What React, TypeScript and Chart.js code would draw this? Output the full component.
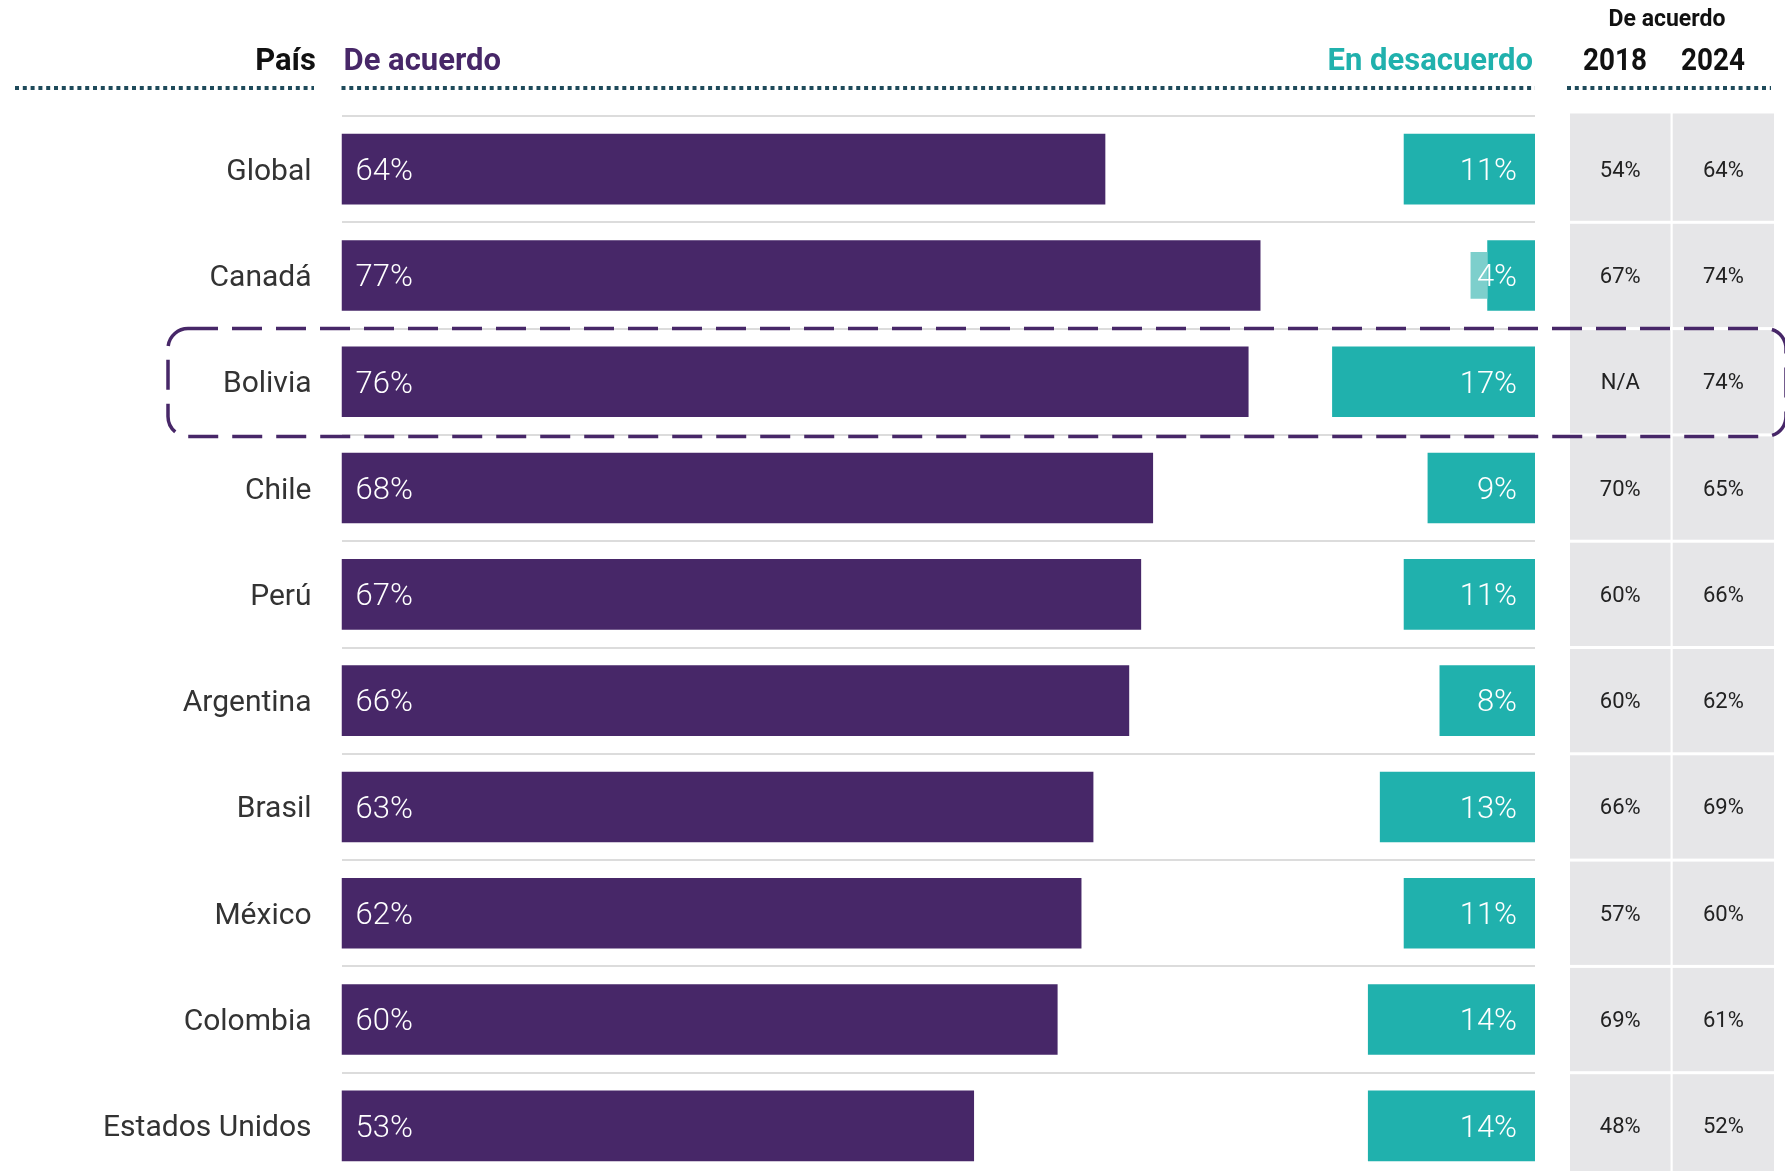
import React, { useEffect, useRef } from 'react';
import { Chart, registerables } from 'chart.js';

Chart.register(...registerables);

// ---------- Data ----------
const paises = ['Global', 'Canadá', 'Bolivia', 'Chile', 'Perú', 'Argentina', 'Brasil', 'México', 'Colombia', 'Estados Unidos'];
const deAcuerdo = [64, 77, 76, 68, 67, 66, 63, 62, 60, 53];
const enDesacuerdo = [11, 4, 17, 9, 11, 8, 13, 11, 14, 14];
const fondoEtiqueta = [0, 1.4, 0, 0, 0, 0, 0, 0, 0, 0];
const acuerdo2018: (number | null)[] = [54, 67, null, 70, 60, 60, 66, 57, 69, 48];
const acuerdo2024: (number | null)[] = [64, 74, 74, 65, 66, 62, 69, 60, 61, 52];
const paisDestacado = 'Bolivia';

const colorAcuerdo = '#472768';
const colorDesacuerdo = '#20b1ad';
const colorFondo = '#7dcfcc';

const W = 1785;
const H = 1200;

const fmt = (v: number | null) => (v === null ? 'N/A' : `${v}%`);

const overlayPlugin = {
  id: 'overlay',
  afterDatasetsDraw(chart: any) {
    const ctx = chart.ctx;
    ctx.save();
    const mA = chart.getDatasetMeta(0);
    const mD = chart.getDatasetMeta(2);
    ctx.font = '300 31px Roboto';
    ctx.fillStyle = '#ffffff';
    ctx.textBaseline = 'middle';
    mA.data.forEach((el: any, i: number) => {
      ctx.textAlign = 'left';
      ctx.fillText(`${deAcuerdo[i]}%`, el.base + 14, el.y + 3);
    });
    mD.data.forEach((el: any, i: number) => {
      ctx.textAlign = 'right';
      ctx.fillText(`${enDesacuerdo[i]}%`, el.x - 18, el.y + 3);
    });
    ctx.restore();
  },
  afterDraw(chart: any) {
    const ctx = chart.ctx;
    const ys = chart.scales.y;
    const area = chart.chartArea;
    const pitch = ys.getPixelForValue(1) - ys.getPixelForValue(0);
    ctx.save();

    // table cells
    const cols = [
      [1570, 1670.5],
      [1672.7, 1774],
    ];
    paises.forEach((_p, i) => {
      const c = ys.getPixelForValue(i);
      const top = c - pitch / 2 + 1.5 - (i === 0 ? 4 : 0);
      const bot = c + pitch / 2 - 1.5;
      const vals = [acuerdo2018[i], acuerdo2024[i]];
      cols.forEach((cx, k) => {
        ctx.fillStyle = '#e6e6e8';
        ctx.fillRect(cx[0], top, cx[1] - cx[0], bot - top);
        ctx.fillStyle = '#222222';
        ctx.font = '400 22px Roboto';
        ctx.textAlign = 'center';
        ctx.textBaseline = 'middle';
        ctx.fillText(fmt(vals[k]), (cx[0] + cx[1]) / 2, c + 2);
      });
    });

    // headers
    ctx.textBaseline = 'alphabetic';
    ctx.font = '700 31px Roboto';
    ctx.fillStyle = '#111111';
    ctx.textAlign = 'right';
    ctx.fillText('País', 316, 70);
    ctx.fillStyle = colorAcuerdo;
    ctx.textAlign = 'left';
    ctx.fillText('De acuerdo', area.left + 2, 70, 160);
    ctx.fillStyle = colorDesacuerdo;
    ctx.textAlign = 'right';
    ctx.fillText('En desacuerdo', area.right - 2, 70, 210);
    ctx.fillStyle = '#111111';
    ctx.textAlign = 'center';
    ctx.fillText('2018', 1615, 70, 64);
    ctx.fillText('2024', 1713, 70, 64);
    ctx.font = '700 23px Roboto';
    ctx.fillText('De acuerdo', 1667, 26, 120);

    // dotted rules
    ctx.strokeStyle = '#1e4a5a';
    ctx.lineWidth = 4;
    ctx.setLineDash([4, 3.8]);
    const rules = [
      [15, 314],
      [area.left, area.right],
      [1567, 1771],
    ];
    rules.forEach(([a, b]) => {
      ctx.beginPath();
      ctx.moveTo(a, 88);
      ctx.lineTo(b, 88);
      ctx.stroke();
    });

    // highlight box
    const idx = paises.indexOf(paisDestacado);
    if (idx >= 0) {
      const c = ys.getPixelForValue(idx);
      const top = c - pitch / 2;
      const bot = c + pitch / 2 + 1.5;
      const left = 168;
      const right = 1786;
      const r = 20;
      ctx.setLineDash([30, 14]);
      ctx.lineWidth = 3.5;
      ctx.strokeStyle = colorAcuerdo;
      ctx.beginPath();
      ctx.moveTo(left + r, top);
      ctx.lineTo(right - r, top);
      ctx.arcTo(right, top, right, top + r, r);
      ctx.lineTo(right, bot - r);
      ctx.arcTo(right, bot, right - r, bot, r);
      ctx.lineTo(left + r, bot);
      ctx.arcTo(left, bot, left, bot - r, r);
      ctx.lineTo(left, top + r);
      ctx.arcTo(left, top, left + r, top, r);
      ctx.closePath();
      ctx.stroke();
    }
    ctx.restore();
  },
};

export default function App() {
  const ref = useRef<HTMLCanvasElement | null>(null);

  useEffect(() => {
    document.body.style.margin = '0';
    document.body.style.overflow = 'hidden';
    if (!ref.current) return;
    const chart = new Chart(ref.current, {
      type: 'bar',
      data: {
        labels: paises,
        datasets: [
          {
            label: 'De acuerdo',
            data: deAcuerdo,
            backgroundColor: colorAcuerdo,
            grouped: false,
            barPercentage: 0.664,
            categoryPercentage: 1,
          },
          {
            label: 'fondo',
            data: enDesacuerdo.map((v, i) => (fondoEtiqueta[i] > 0 ? [100 - v - fondoEtiqueta[i], 100 - v] : null)) as any,
            backgroundColor: colorFondo,
            grouped: false,
            barPercentage: 0.44,
            categoryPercentage: 1,
          },
          {
            label: 'En desacuerdo',
            data: enDesacuerdo.map((v) => [100 - v, 100]) as any,
            backgroundColor: colorDesacuerdo,
            grouped: false,
            barPercentage: 0.664,
            categoryPercentage: 1,
          },
        ],
      },
      options: {
        indexAxis: 'y',
        responsive: false,
        animation: false,
        layout: { padding: { left: 0, right: W - 1535, top: 116, bottom: H - 1179 } },
        plugins: { legend: { display: false }, tooltip: { enabled: false } },
        scales: {
          x: { display: false, min: 0, max: 100 },
          y: {
            afterFit: (scale: any) => {
              scale.width = 341.5;
              scale.paddingTop = 0;
              scale.paddingBottom = 0;
            },
            border: { display: false },
            grid: { color: '#dcdcdc', lineWidth: 2, drawTicks: false, offset: true },
            ticks: {
              padding: 30,
              labelOffset: 3,
              color: '#333333',
              font: { family: 'Roboto', size: 30, weight: '400' as any },
            },
          },
        },
      } as any,
      plugins: [overlayPlugin],
    });
    return () => chart.destroy();
  }, []);

  return (
    <div style={{ width: W, height: 1171, overflow: 'hidden', position: 'relative', background: '#fff' }}>
      <canvas ref={ref} width={W} height={H} style={{ width: W, height: H, display: 'block' }} />
    </div>
  );
}
